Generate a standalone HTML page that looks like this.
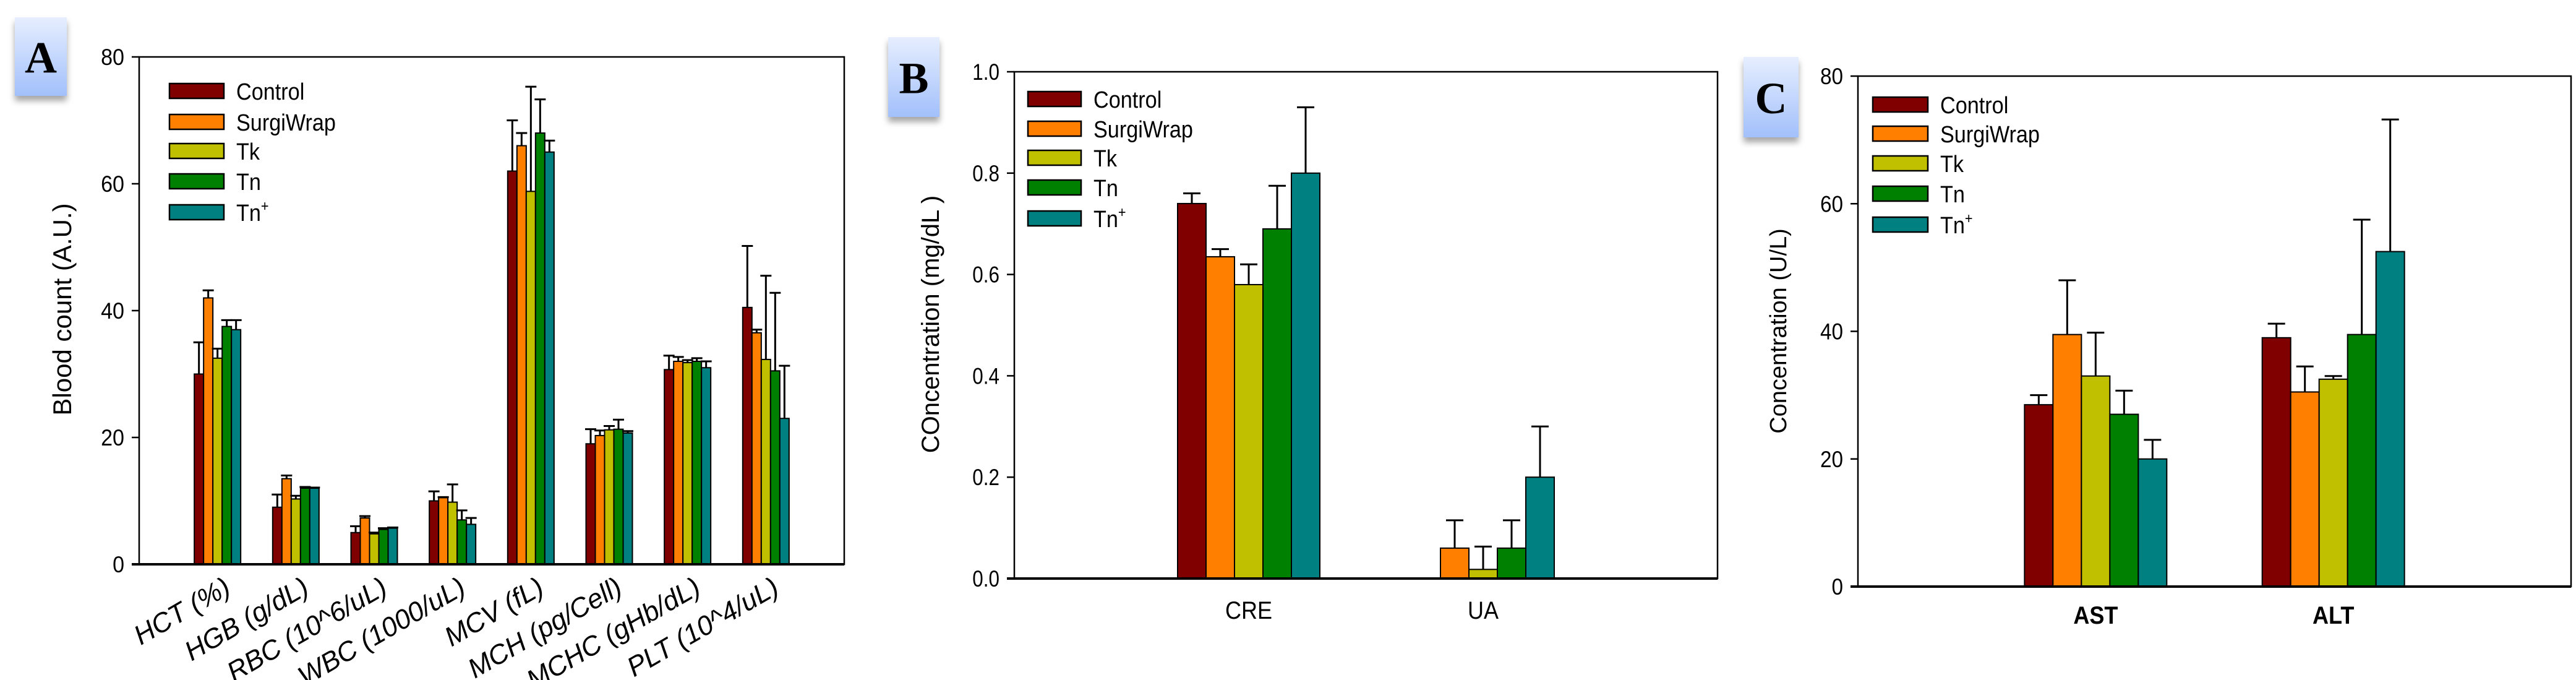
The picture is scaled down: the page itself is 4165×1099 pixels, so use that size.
<!DOCTYPE html>
<html><head><meta charset="utf-8">
<style>
html,body{margin:0;padding:0;background:#fff;}
svg{display:block;font-family:"Liberation Sans",Arial,sans-serif;}
</style></head>
<body>
<svg id="fig" width="4165" height="1099" viewBox="0 0 4165 1099" xmlns="http://www.w3.org/2000/svg">
<defs>
<linearGradient id="lbl" x1="0" y1="0" x2="0" y2="1"><stop offset="0" stop-color="#e6eeff"/><stop offset="1" stop-color="#a2c0fb"/></linearGradient>
<filter id="sh" x="-30%" y="-30%" width="160%" height="160%"><feDropShadow dx="0" dy="8" stdDeviation="5" flood-color="#000" flood-opacity="0.35"/></filter>
</defs>
<g id="root"></g>
</svg>
<script>
const seriesNames = ["Control","SurgiWrap","Tk","Tn","Tn+"];
const seriesColors = ["#800000","#FF8000","#C0C000","#008000","#008080"];

const catsA = ["HCT (%)","HGB (g/dL)","RBC (10^6/uL)","WBC (1000/uL)","MCV (fL)","MCH (pg/Cell)","MCHC (gHb/dL)","PLT (10^4/uL)"];
const ctrlA = [30,9,5,10,62,19,30.7,40.5];
const surgA = [42,13.5,7.3,10.5,66,20.3,32,36.5];
const tkA   = [32.5,10.3,4.8,9.8,58.8,21.2,31.8,32.3];
const tnA   = [37.5,12,5.5,7,68,21.3,32,30.5];
const tnpA  = [37,12,5.7,6.3,65,20.7,31,23];
const ctrlAerr = [5,2,1,1.5,8,2.3,2.2,9.7];
const surgAerr = [1.2,0.5,0.3,0.1,2,0.8,0.7,0.5];
const tkAerr   = [1.5,0.5,0.2,2.8,16.5,0.6,0.4,13.2];
const tnAerr   = [1,0.2,0.2,1.5,5.3,1.5,0.5,12.3];
const tnpAerr  = [1.5,0.1,0.1,1,1.8,0.3,1,8.3];
const ticksA = [0,20,40,60,80];

const catsB = ["CRE","UA"];
const ctrlB = [0.74,0];
const surgB = [0.635,0.06];
const tkB   = [0.58,0.018];
const tnB   = [0.69,0.06];
const tnpB  = [0.80,0.20];
const ctrlBerr = [0.02,0];
const surgBerr = [0.015,0.055];
const tkBerr   = [0.04,0.045];
const tnBerr   = [0.085,0.055];
const tnpBerr  = [0.13,0.10];
const ticksB = [0,0.2,0.4,0.6,0.8,1.0];

const catsC = ["AST","ALT"];
const ctrlC = [28.5,39];
const surgC = [39.5,30.5];
const tkC   = [33,32.5];
const tnC   = [27,39.5];
const tnpC  = [20,52.5];
const ctrlCerr = [1.5,2.2];
const surgCerr = [8.5,4];
const tkCerr   = [6.8,0.5];
const tnCerr   = [3.7,18];
const tnpCerr  = [3,20.7];
const ticksC = [0,20,40,60,80];

const NS="http://www.w3.org/2000/svg";
const root=document.getElementById('root');
function mk(tag,attrs,parent){const e=document.createElementNS(NS,tag);for(const k in attrs)e.setAttribute(k,attrs[k]);(parent||root).appendChild(e);return e;}
function squeeze(t,r){const w=t.getComputedTextLength();t.setAttribute('textLength',(w*r).toFixed(1));t.setAttribute('lengthAdjust','spacingAndGlyphs');}

function panel(cfg){
  const g=mk('g',{});
  
  
  const {x0,x1,y0,y1,ymax}=cfg;
  const ys=v=>y1-(v/ymax)*(y1-y0);
  const slot=(x1-x0)/(cfg.cats.length+1);
  const xc=i=>x0+(i+1)*slot;
  const lb=mk('g',{},g);
  
  
  mk('rect',{x:cfg.box[0],y:cfg.box[1],width:cfg.box[2],height:cfg.box[3],fill:'url(#lbl)',filter:'url(#sh)'},lb);
  const lt=mk('text',{x:cfg.box[0]+cfg.box[2]/2,y:cfg.box[1]+cfg.box[3]/2+26,'text-anchor':'middle','font-family':'"Liberation Serif",serif','font-weight':'bold','font-size':72,fill:'#000'},lb);
  lt.textContent=cfg.letter;
  const vals=cfg.vals, errs=cfg.errs, bw=cfg.bw, n=vals.length;
  for(let i=0;i<cfg.cats.length;i++){
    for(let s=0;s<n;s++){
      const v=vals[s][i]; if(v<=0) continue;
      const bx=xc(i)-bw*n/2+s*bw;
      const r=mk('rect',{x:bx,y:ys(v),width:bw,height:y1-ys(v),fill:seriesColors[s],stroke:'#000','stroke-width':2},g);
      
      
      const e=errs[s][i];
      if(e>0){
        const cx=bx+bw/2, top=ys(v+e);
        const eb=mk('path',{d:`M${cx},${ys(v)}V${top}M${cx-cfg.cap},${top}H${cx+cfg.cap}`,stroke:'#000','stroke-width':3,fill:'none'},g);
        
        
      }
    }
  }
  const ax=mk('path',{d:`M${x0},${y0}H${x1}V${y1}H${x0}Z`,fill:'none',stroke:'#000','stroke-width':2.5},g);
  
  
  mk('line',{x1:x0-12,x2:x1,y1:y1,y2:y1,stroke:'#000','stroke-width':4},g);
  cfg.ticks.forEach(t=>{
    mk('line',{x1:x0-12,x2:x0,y1:ys(t),y2:ys(t),stroke:'#000','stroke-width':2.5},g);
    const tx=mk('text',{x:x0-24,y:ys(t)+13,'text-anchor':'end','font-size':37,fill:'#000'},g);
    tx.textContent=cfg.fmt(t);
    
    
    squeeze(tx,cfg.tickSq);
  });
  const yt=mk('text',{x:cfg.ylab[0],y:cfg.ylab[1],'text-anchor':'middle','font-size':cfg.ylab[2],fill:'#000',transform:`rotate(-90 ${cfg.ylab[0]} ${cfg.ylab[1]})`},g);
  yt.textContent=cfg.ytitle;
  
  
  cfg.cats.forEach((c,i)=>{
    let t;
    if(cfg.rot){
      const px=xc(i)+8, py=y1+18;
      t=mk('text',{x:px,y:py,'text-anchor':'end','font-size':44,'font-style':'italic',fill:'#000',transform:`rotate(-30 ${px} ${py}) translate(0 32)`},g);
    } else {
      t=mk('text',{x:xc(i),y:cfg.catY,'text-anchor':'middle','font-size':40,'font-weight':cfg.catBold?'bold':'normal',fill:'#000'},g);
    }
    t.textContent=c;
    
    
    if(!cfg.rot) squeeze(t,0.9);
  });
  const L=cfg.leg;
  seriesNames.forEach((nm,s)=>{
    const lg=mk('g',{},g);
    
    
    const cy=L.rows[s];
    mk('rect',{x:L.x,y:cy-12,width:L.w,height:24,fill:seriesColors[s],stroke:'#000','stroke-width':2.5},lg);
    const t=mk('text',{x:L.x+L.w+20,y:cy+14,'font-size':38,fill:'#000'},lg);
    if(nm==='Tn+'){t.textContent='Tn';const sp=mk('tspan',{dy:-16,'font-size':24},t);sp.textContent='+';}
    else t.textContent=nm;
    squeeze(t,0.9);
  });
}

panel({name:'panel-a-blood-count',letter:'A',box:[24,28,84,127],x0:225,x1:1365,y0:92,y1:912,ymax:80,
  cats:catsA,vals:[ctrlA,surgA,tkA,tnA,tnpA],errs:[ctrlAerr,surgAerr,tkAerr,tnAerr,tnpAerr],bw:15,cap:9,
  ticks:ticksA,fmt:t=>String(t),tickSq:0.92,ytitle:'Blood count (A.U.)',ylab:[115,500,42],rot:true,
  leg:{x:274,w:88,rows:[147,197,244,293,343]}});
panel({name:'panel-b-kidney',letter:'B',box:[1436,60,83,129],x0:1640,x1:2777,y0:116,y1:935,ymax:1.0,
  cats:catsB,vals:[ctrlB,surgB,tkB,tnB,tnpB],errs:[ctrlBerr,surgBerr,tkBerr,tnBerr,tnpBerr],bw:46,cap:14,
  ticks:ticksB,fmt:t=>t.toFixed(1),tickSq:0.85,ytitle:'COncentration (mg/dL )',ylab:[1518,524,40],rot:false,catY:1000,catBold:false,
  leg:{x:1662,w:86,rows:[160,208,255,303,353]}});
panel({name:'panel-c-liver',letter:'C',box:[2819,92,89,130],x0:3004,x1:4157,y0:123,y1:948,ymax:80,
  cats:catsC,vals:[ctrlC,surgC,tkC,tnC,tnpC],errs:[ctrlCerr,surgCerr,tkCerr,tnCerr,tnpCerr],bw:46,cap:14,
  ticks:ticksC,fmt:t=>String(t),tickSq:0.9,ytitle:'Concentration (U/L)',ylab:[2888,535,38],rot:false,catY:1008,catBold:true,
  leg:{x:3028,w:89,rows:[169,216,264,313,363]}});
</script>
</body></html>
